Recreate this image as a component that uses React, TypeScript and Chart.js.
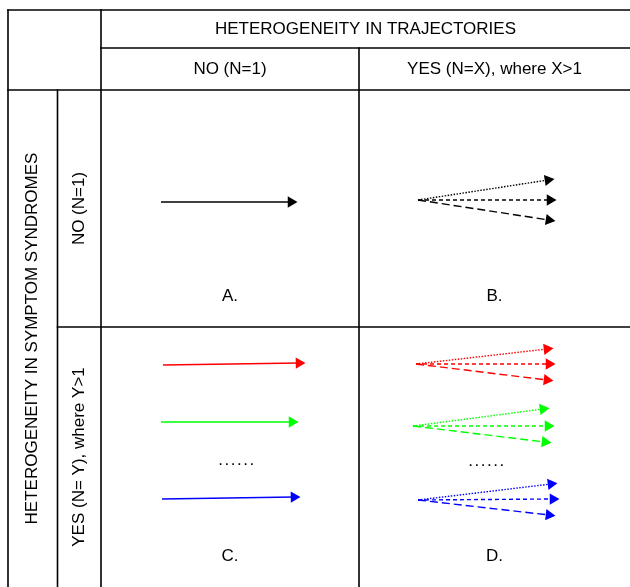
import React, { useEffect, useRef } from "react";
import { Chart, registerables } from "chart.js";

Chart.register(...registerables);

// ---- table structure (diagram units) ----
const colEdges = [8, 57.5, 101, 359, 630];
const rowEdges = [10, 48, 90, 327, 587];

// ---- texts ----
const topHeader = "HETEROGENEITY IN TRAJECTORIES";
const colHeaders = ["NO (N=1)", "YES (N=X), where X>1"];
const sideHeader = "HETEROGENEITY IN SYMPTOM SYNDROMES";
const rowHeaders = ["NO (N=1)", "YES (N= Y), where Y>1"];
const panelLabels = ["A.", "B.", "C.", "D."];
const ellipsis = "......";

// ---- arrows: start x, start y, end x, end y ----
const arrowStartX = [161, 418, 418, 418, 163, 161, 162, 416, 416, 416, 413, 413, 413, 418, 418, 418];
const arrowStartY = [202, 200, 200, 200, 365, 422, 499, 364, 364, 364, 426, 426, 426, 500, 500, 500];
const arrowEndX = [291, 548, 550, 549, 299, 292, 294, 547, 549, 547, 543, 548, 545, 551, 553, 549];
const arrowEndY = [202, 180, 200, 220, 363, 422, 497, 349, 364, 380, 409, 426, 442, 484, 499, 515];
const arrowColor = ["#000", "#000", "#000", "#000", "#ff0000", "#00ff00", "#0000ff", "#ff0000", "#ff0000", "#ff0000", "#00ff00", "#00ff00", "#00ff00", "#0000ff", "#0000ff", "#0000ff"];
const arrowStyle = ["solid", "dot", "dash", "long", "solid", "solid", "solid", "dot", "dash", "long", "dot", "dash", "long", "dot", "dash", "long"];

const dashFor: Record<string, number[]> = {
  solid: [],
  dot: [1.5, 1.5],
  dash: [4, 3],
  long: [8, 4],
};

const FONT = '17px "Liberation Sans", Arial, Helvetica, sans-serif';

export default function App() {
  const ref = useRef<HTMLCanvasElement | null>(null);

  useEffect(() => {
    if (!ref.current) return;
    const L = colEdges[0], R = colEdges[4], T = rowEdges[0], B = rowEdges[4];
    const lineSegs: number[][] = [
      [L, T, R, T],
      [colEdges[2], rowEdges[1], R, rowEdges[1]],
      [L, rowEdges[2], R, rowEdges[2]],
      [colEdges[1], rowEdges[3], R, rowEdges[3]],
      [L, T, L, B],
      [colEdges[1], rowEdges[2], colEdges[1], B],
      [colEdges[2], T, colEdges[2], B],
      [colEdges[3], rowEdges[1], colEdges[3], B],
    ];

    const gridSets = lineSegs.map((s) => ({
      type: "line" as const,
      data: [{ x: s[0], y: s[1] }, { x: s[2], y: s[3] }],
      borderColor: "#000",
      borderWidth: 1.6,
      pointRadius: 0,
      showLine: true,
      borderCapStyle: "square" as const,
      clip: false as any,
    }));

    const arrowSets = arrowStartX.map((_, i) => ({
      type: "line" as const,
      data: [
        { x: arrowStartX[i], y: arrowStartY[i] },
        { x: arrowEndX[i], y: arrowEndY[i] },
      ],
      borderColor: arrowColor[i],
      backgroundColor: arrowColor[i],
      borderWidth: arrowStyle[i] === "solid" ? 1.5 : 1.4,
      borderDash: dashFor[arrowStyle[i]],
      showLine: true,
      pointStyle: "triangle" as const,
      pointRadius: (c: any) => (c.dataIndex === 1 ? 6.5 : 0),
      pointBorderWidth: 0,
      pointRotation: (c: any) => {
        const ch = c.chart;
        const xs = ch.scales.x, ys = ch.scales.y;
        const dx = xs.getPixelForValue(arrowEndX[i]) - xs.getPixelForValue(arrowStartX[i]);
        const dy = ys.getPixelForValue(arrowEndY[i]) - ys.getPixelForValue(arrowStartY[i]);
        return (Math.atan2(dy, dx) * 180) / Math.PI + 90;
      },
    }));

    const textPlugin = {
      id: "tableText",
      afterDatasetsDraw(chart: any) {
        const { ctx } = chart;
        const xs = chart.scales.x, ys = chart.scales.y;
        const px = (v: number) => xs.getPixelForValue(v);
        const py = (v: number) => ys.getPixelForValue(v);
        ctx.save();
        ctx.fillStyle = "#000";
        ctx.font = FONT;
        ctx.textAlign = "center";
        ctx.textBaseline = "middle";
        ctx.fillText(topHeader, px((colEdges[2] + colEdges[4]) / 2), py((rowEdges[0] + rowEdges[1]) / 2));
        colHeaders.forEach((t, i) => {
          ctx.fillText(t, px((colEdges[2 + i] + colEdges[3 + i]) / 2), py((rowEdges[1] + rowEdges[2]) / 2));
        });
        const rot = (t: string, x: number, y: number) => {
          ctx.save();
          ctx.translate(x, y);
          ctx.rotate(-Math.PI / 2);
          ctx.fillText(t, 0, 0);
          ctx.restore();
        };
        rot(sideHeader, px((colEdges[0] + colEdges[1]) / 2), py((rowEdges[2] + rowEdges[4]) / 2));
        rowHeaders.forEach((t, i) => {
          rot(t, px((colEdges[1] + colEdges[2]) / 2), py((rowEdges[2 + i] + rowEdges[3 + i]) / 2));
        });
        panelLabels.forEach((t, k) => {
          const r = Math.floor(k / 2), c = k % 2;
          ctx.fillText(t, px((colEdges[2 + c] + colEdges[3 + c]) / 2), py(rowEdges[3 + r] - 31));
        });
        (ctx as any).letterSpacing = "1.5px";
        ctx.fillText(ellipsis, px(237), py(460));
        ctx.fillText(ellipsis, px(487), py(461));
        ctx.restore();
      },
    };

    const chart = new Chart(ref.current, {
      type: "scatter",
      data: { datasets: [...gridSets, ...arrowSets] as any },
      options: {
        animation: false,
        responsive: false,
        events: [],
        layout: { padding: 0, autoPadding: false },
        plugins: { legend: { display: false }, tooltip: { enabled: false } },
        scales: {
          x: { type: "linear", min: 0, max: 630, display: false },
          y: { type: "linear", min: 0, max: 587, reverse: true, display: false },
        },
      },
      plugins: [textPlugin],
    });
    return () => chart.destroy();
  }, []);

  return (
    <div style={{ position: "absolute", left: 0, top: 0, width: 630, height: 587, background: "#fff" }}>
      <canvas ref={ref} width={630} height={587} />
    </div>
  );
}
